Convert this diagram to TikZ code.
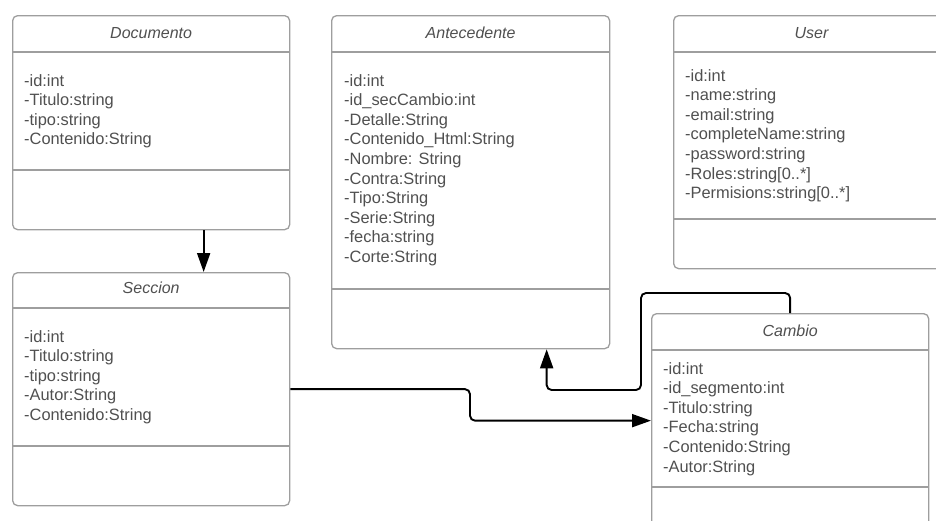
\documentclass[tikz,border=0pt]{standalone}
\usepackage{fontspec}
\setmainfont{Liberation Sans}
\usetikzlibrary{arrows.meta}
\definecolor{boxline}{HTML}{9E9E9E}
\definecolor{txt}{HTML}{505050}
\newcommand\aline[1]{\hbox{#1}}
\newcommand\attrs[1]{\vtop{\baselineskip=19.6pt\relax #1}}
\tikzset{
  cls/.style={draw=boxline, line width=1.3pt, rounded corners=5pt, fill=white, inner sep=0pt, anchor=north west},
  divline/.style={draw=boxline, line width=1.3pt},
  ttl/.style={font=\fontsize{16}{19}\selectfont\itshape, text=txt, inner sep=0pt, anchor=base},
  attr/.style={font=\fontsize{16.4}{19.6}\selectfont, text=txt, inner sep=0pt, anchor=base west},
  conn/.style={draw=black, line width=1.9pt, rounded corners=5pt, -{Triangle[length=19pt,width=13pt]}}
}
\begin{document}
\begin{tikzpicture}[x=1pt,y=-1pt]
\useasboundingbox (0,0) rectangle (936,520);
\clip (0,0) rectangle (936,520);

% Documento
\node[cls, minimum width=277pt, minimum height=214pt] (doc) at (12,15) {};
\node[ttl] (docT) at ([yshift=-23pt]doc.north) {Documento};
\draw[divline] (12,52) -- (289,52);
\draw[divline] (12,170) -- (289,170);
\node[attr] (docA) at (24,86) {\attrs{\aline{-id:int}\aline{-Titulo:string}\aline{-tipo:string}\aline{-Contenido:String}}};

% Antecedente
\node[cls, minimum width=278pt, minimum height=333pt] (ant) at (331,15) {};
\node[ttl] (antT) at ([yshift=-23pt]ant.north) {Antecedente};
\draw[divline] (331,52) -- (609,52);
\draw[divline] (331,289) -- (609,289);
\node[attr] (antA) at (344,86) {\attrs{\aline{-id:int}\aline{-id\_secCambio:int}\aline{-Detalle:String}\aline{-Contenido\_Html:String}\aline{-Nombre: String}\aline{-Contra:String}\aline{-Tipo:String}\aline{-Serie:String}\aline{-fecha:string}\aline{-Corte:String}}};

% User
\node[cls, minimum width=277pt, minimum height=253pt] (usr) at (673,15) {};
\node[ttl] (usrT) at (811.5,38) {User};
\draw[divline] (673,52) -- (950,52);
\draw[divline] (673,219) -- (950,219);
\node[attr] (usrA) at (685,81) {\attrs{\aline{-id:int}\aline{-name:string}\aline{-email:string}\aline{-completeName:string}\aline{-password:string}\aline{-Roles:string[0..*]}\aline{-Permisions:string[0..*]}}};

% Seccion
\node[cls, minimum width=277pt, minimum height=233pt] (sec) at (12,272) {};
\node[ttl] (secT) at ([yshift=-21pt]sec.north) {Seccion};
\draw[divline] (12,308) -- (289,308);
\draw[divline] (12,446) -- (289,446);
\node[attr] (secA) at (24,342) {\attrs{\aline{-id:int}\aline{-Titulo:string}\aline{-tipo:string}\aline{-Autor:String}\aline{-Contenido:String}}};

% Cambio
\node[cls, minimum width=277pt, minimum height=214pt] (cam) at (651,313) {};
\node[ttl] (camT) at ([yshift=-23pt]cam.north) {Cambio};
\draw[divline] (651,350) -- (928,350);
\draw[divline] (651,487) -- (928,487);
\node[attr] (camA) at (663,374) {\attrs{\aline{-id:int}\aline{-id\_segmento:int}\aline{-Titulo:string}\aline{-Fecha:string}\aline{-Contenido:String}\aline{-Autor:String}}};

% connectors
\draw[conn] ([xshift=52.5pt]doc.south) -- ([xshift=52.5pt]sec.north);
\coordinate (m1) at (470,404);
\draw[conn] (sec.east) -| (m1) |- (cam.west);
\coordinate (k1) at (641,293);
\coordinate (k2) at (641,390);
\draw[conn] (cam.north) |- (k1) -- (k2) -| ([xshift=76pt]ant.south);
\end{tikzpicture}
\end{document}
